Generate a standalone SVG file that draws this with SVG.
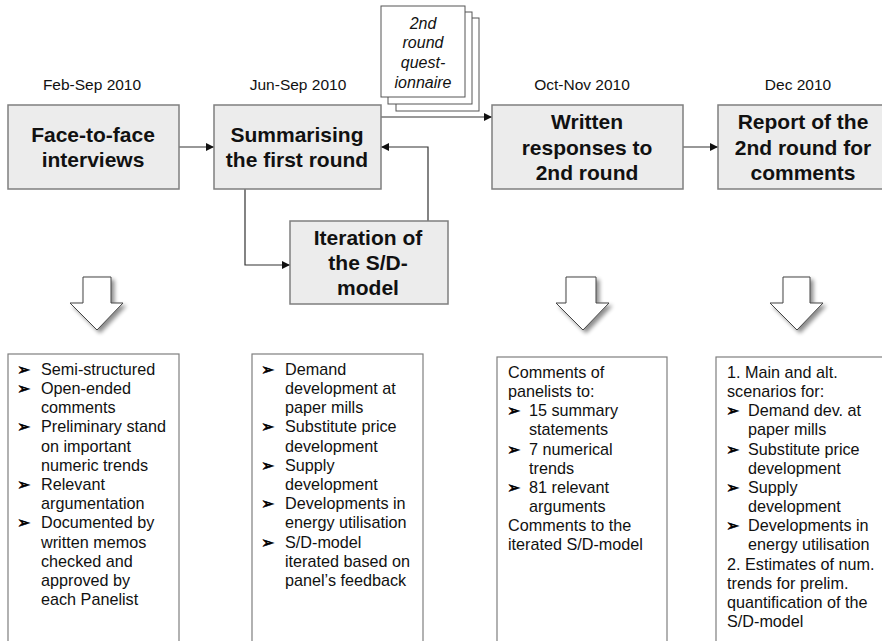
<svg xmlns="http://www.w3.org/2000/svg" width="882" height="641" viewBox="0 0 882 641">
<defs>
<style>
.box{fill:#ececec;stroke:#7f7f7f;stroke-width:1.5}
.lst{fill:#fff;stroke:#7f7f7f;stroke-width:1.2}
.doc{fill:#fff;stroke:#555;stroke-width:1}
.t{font-family:"Liberation Sans",Arial,sans-serif;font-weight:bold;font-size:21px;fill:#111;text-anchor:middle}
.d{font-family:"Liberation Sans",Arial,sans-serif;font-size:15.5px;fill:#111;text-anchor:middle}
.q{font-family:"Liberation Sans",Arial,sans-serif;font-style:italic;font-size:16px;fill:#111;text-anchor:middle}
.l{font-family:"Liberation Sans",Arial,sans-serif;font-size:16.2px;fill:#111}
.b{font-family:"DejaVu Sans",sans-serif;font-size:16px;font-weight:bold;fill:#000;stroke:#000;stroke-width:0.6}
.c{fill:none;stroke:#333;stroke-width:1.2}
.da{fill:#fff;stroke:#444;stroke-width:1;filter:url(#sh)}
</style>
<marker id="ah" viewBox="0 0 10 10" refX="10" refY="5" markerWidth="8" markerHeight="8" markerUnits="userSpaceOnUse" orient="auto">
<path d="M0,0 L10,5 L0,10 z" fill="#111"/>
</marker>
<filter id="sh" x="-30%" y="-30%" width="170%" height="170%">
<feGaussianBlur in="SourceAlpha" stdDeviation="2"/>
<feOffset dx="3" dy="3" result="o"/>
<feComponentTransfer><feFuncA type="linear" slope="0.45"/></feComponentTransfer>
<feMerge><feMergeNode/><feMergeNode in="SourceGraphic"/></feMerge>
</filter>
</defs>

<g id="dates">
<text class="d" x="92" y="90">Feb-Sep 2010</text>
<text class="d" x="298" y="90">Jun-Sep 2010</text>
<text class="d" x="582" y="90">Oct-Nov 2010</text>
<text class="d" x="798" y="90">Dec 2010</text>
</g>

<g id="questionnaire">
<rect class="doc" x="396" y="18" width="83" height="93"/>
<rect class="doc" x="388" y="12" width="84" height="92"/>
<rect class="doc" x="381" y="6" width="84" height="91"/>
<text class="q" x="423" y="29">2nd</text>
<text class="q" x="423" y="48">round</text>
<text class="q" x="423" y="68">quest-</text>
<text class="q" x="423" y="88">ionnaire</text>
</g>

<g id="connectors">
<path class="c" d="M179,147 H214" marker-end="url(#ah)"/>
<path class="c" d="M381,117 H492" marker-end="url(#ah)"/>
<path class="c" d="M683,147 H718" marker-end="url(#ah)"/>
<path class="c" d="M245,189 V265 H290" marker-end="url(#ah)"/>
<path class="c" d="M428,221 V147 H381" marker-end="url(#ah)"/>
</g>

<g id="n-face">
<rect class="box" x="8" y="105" width="171" height="84"/>
<text class="t" x="93" y="142">Face-to-face</text>
<text class="t" x="93" y="167">interviews</text>
</g>
<g id="n-summ">
<rect class="box" x="214" y="105" width="167" height="84"/>
<text class="t" x="297" y="142">Summarising</text>
<text class="t" x="297" y="167">the first round</text>
</g>
<g id="n-iter">
<rect class="box" x="290" y="221" width="158" height="83"/>
<text class="t" x="368" y="245">Iteration of</text>
<text class="t" x="368" y="270">the S/D-</text>
<text class="t" x="368" y="295">model</text>
</g>
<g id="n-written">
<rect class="box" x="492" y="105" width="191" height="84"/>
<text class="t" x="587" y="129">Written</text>
<text class="t" x="587" y="155">responses to</text>
<text class="t" x="587" y="180">2nd round</text>
</g>
<g id="n-report">
<rect class="box" x="718" y="105" width="165" height="84"/>
<text class="t" x="803" y="129">Report of the</text>
<text class="t" x="803" y="155">2nd round for</text>
<text class="t" x="803" y="180">comments</text>
</g>

<g id="down-arrows">
<path class="da" d="M83,277 H111 V303 H123 L97,330 L70,303 H83 Z"/>
<path class="da" d="M566,277 H596 V303 H609 L583,330 L556,303 H566 Z"/>
<path class="da" d="M783,277 H810 V303 H823 L797,330 L770,303 H783 Z"/>
</g>

<g id="list-a">
<rect class="lst" x="8" y="354" width="171" height="295"/>
<text class="b" x="17" y="375">➢</text><text class="l" x="41" y="375">Semi-structured</text>
<text class="b" x="17" y="394">➢</text><text class="l" x="41" y="394">Open-ended</text>
<text class="l" x="41" y="413">comments</text>
<text class="b" x="17" y="432">➢</text><text class="l" x="41" y="432">Preliminary stand</text>
<text class="l" x="41" y="452">on important</text>
<text class="l" x="41" y="471">numeric trends</text>
<text class="b" x="17" y="490">➢</text><text class="l" x="41" y="490">Relevant</text>
<text class="l" x="41" y="509">argumentation</text>
<text class="b" x="17" y="528">➢</text><text class="l" x="41" y="528">Documented by</text>
<text class="l" x="41" y="548">written memos</text>
<text class="l" x="41" y="567">checked and</text>
<text class="l" x="41" y="586">approved by</text>
<text class="l" x="41" y="605">each Panelist</text>
</g>

<g id="list-b">
<rect class="lst" x="252" y="354" width="171" height="295"/>
<text class="b" x="261" y="375">➢</text><text class="l" x="285" y="375">Demand</text>
<text class="l" x="285" y="394">development at</text>
<text class="l" x="285" y="413">paper mills</text>
<text class="b" x="261" y="432">➢</text><text class="l" x="285" y="432">Substitute price</text>
<text class="l" x="285" y="452">development</text>
<text class="b" x="261" y="471">➢</text><text class="l" x="285" y="471">Supply</text>
<text class="l" x="285" y="490">development</text>
<text class="b" x="261" y="509">➢</text><text class="l" x="285" y="509">Developments in</text>
<text class="l" x="285" y="528">energy utilisation</text>
<text class="b" x="261" y="548">➢</text><text class="l" x="285" y="548">S/D-model</text>
<text class="l" x="285" y="567">iterated based on</text>
<text class="l" x="285" y="586">panel’s feedback</text>
</g>

<g id="list-c">
<rect class="lst" x="497" y="357" width="170" height="292"/>
<text class="l" x="508" y="378">Comments of</text>
<text class="l" x="508" y="397">panelists to:</text>
<text class="b" x="507" y="416">➢</text><text class="l" x="529" y="416">15 summary</text>
<text class="l" x="529" y="435">statements</text>
<text class="b" x="507" y="455">➢</text><text class="l" x="529" y="455">7 numerical</text>
<text class="l" x="529" y="474">trends</text>
<text class="b" x="507" y="493">➢</text><text class="l" x="529" y="493">81 relevant</text>
<text class="l" x="529" y="512">arguments</text>
<text class="l" x="508" y="531">Comments to the</text>
<text class="l" x="508" y="550">iterated S/D-model</text>
</g>

<g id="list-d">
<rect class="lst" x="716" y="357" width="170" height="292"/>
<text class="l" x="727" y="378">1. Main and alt.</text>
<text class="l" x="727" y="397">scenarios for:</text>
<text class="b" x="726" y="416">➢</text><text class="l" x="748" y="416">Demand dev. at</text>
<text class="l" x="748" y="435">paper mills</text>
<text class="b" x="726" y="455">➢</text><text class="l" x="748" y="455">Substitute price</text>
<text class="l" x="748" y="474">development</text>
<text class="b" x="726" y="493">➢</text><text class="l" x="748" y="493">Supply</text>
<text class="l" x="748" y="512">development</text>
<text class="b" x="726" y="531">➢</text><text class="l" x="748" y="531">Developments in</text>
<text class="l" x="748" y="550">energy utilisation</text>
<text class="l" x="727" y="570">2. Estimates of num.</text>
<text class="l" x="727" y="589">trends for prelim.</text>
<text class="l" x="727" y="608">quantification of the</text>
<text class="l" x="727" y="627">S/D-model</text>
</g>
</svg>
